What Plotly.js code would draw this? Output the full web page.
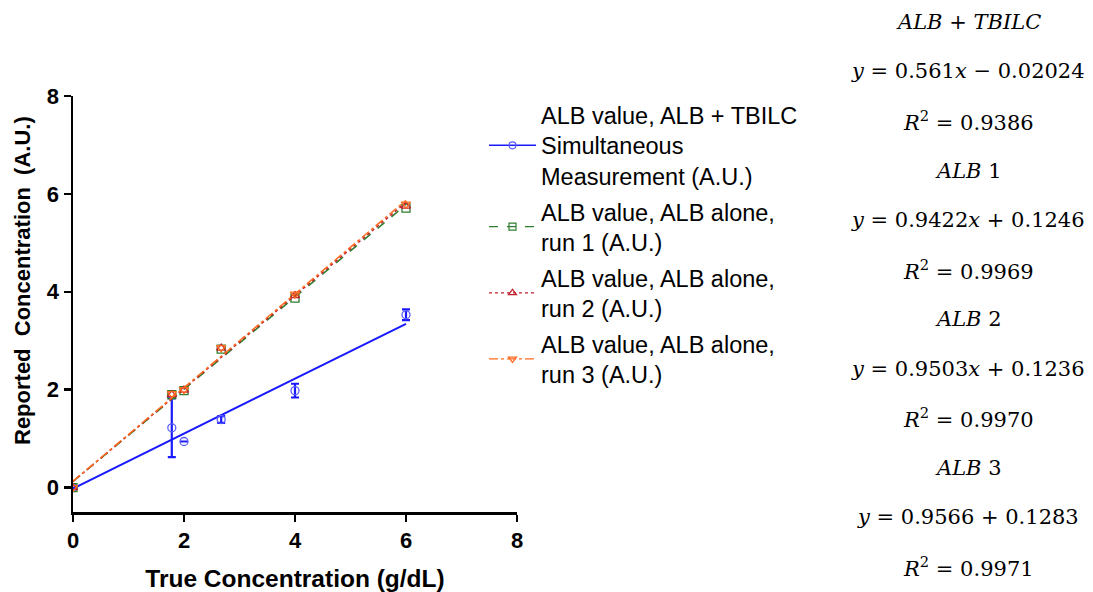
<!DOCTYPE html>
<html>
<head>
<meta charset="utf-8">
<script src="https://cdn.plot.ly/plotly-3.0.1.min.js"></script>
<style>
  html, body { margin: 0; padding: 0; background: #fff; }
  #chart { width: 1093px; height: 592px; }
</style>
</head>
<body>
<div id="chart"></div>
<script>
// True albumin concentrations (g/dL)
const trueConc = [0, 1.78, 2, 2.67, 4, 6];

// Reported values (A.U.)
const simulVals = [0, 1.22, 0.94, 1.39, 1.98, 3.53];
const simulErr  = [0, 0.60, 0, 0.07, 0.14, 0.11];
const run1Vals  = [0, 1.90, 1.98, 2.83, 3.87, 5.71];
const run2Vals  = [0, 1.90, 1.99, 2.85, 3.92, 5.75];
const run3Vals  = [0, 1.92, 2.00, 2.86, 3.95, 5.79];

// Linear fit coefficients
const fitSlopes     = [0.561, 0.9422, 0.9503, 0.9566];
const fitIntercepts = [-0.02024, 0.1246, 0.1236, 0.1283];
const fitRange      = [0, 6];

const seriesNames = [
  'ALB value, ALB + TBILC<br>Simultaneous<br>Measurement (A.U.)',
  'ALB value, ALB alone,<br>run 1 (A.U.)',
  'ALB value, ALB alone,<br>run 2 (A.U.)',
  'ALB value, ALB alone,<br>run 3 (A.U.)'
];

const eqLines = [
  '<i>ALB</i> + <i>TBILC</i>',
  '<i>y</i> = 0.561<i>x</i> − 0.02024',
  '<i>R</i><sup>2</sup> = 0.9386',
  '<i>ALB</i> 1',
  '<i>y</i> = 0.9422<i>x</i> + 0.1246',
  '<i>R</i><sup>2</sup> = 0.9969',
  '<i>ALB</i> 2',
  '<i>y</i> = 0.9503<i>x</i> + 0.1236',
  '<i>R</i><sup>2</sup> = 0.9970',
  '<i>ALB</i> 3',
  '<i>y</i> = 0.9566 + 0.1283',
  '<i>R</i><sup>2</sup> = 0.9971'
];

const xTitle = 'True Concentration (g/dL)';
const yTitle = 'Reported\u00a0\u00a0Concentration\u00a0\u00a0(A.U.)';

const styles = [
  {color: '#1a1aff', mcolor: '#5c5cff', dash: 'solid',   symbol: 'circle-open',        lw: 2},
  {color: '#2e7d2e', mcolor: '#2e7d2e', dash: 'dash',    symbol: 'square-open',        lw: 1.5},
  {color: '#c0202a', mcolor: '#c0202a', dash: 'dot',     symbol: 'triangle-up-open',   lw: 1.5},
  {color: '#ff6a1f', mcolor: '#ff6a1f', dash: 'dashdot', symbol: 'triangle-down-open', lw: 1.5}
];

const allVals = [simulVals, run1Vals, run2Vals, run3Vals];
const traces = [];

allVals.forEach((vals, i) => {
  const s = styles[i];
  const fx = fitRange;
  const fy = fitRange.map(x => fitSlopes[i] * x + fitIntercepts[i]);
  // regression line
  traces.push({
    x: fx, y: fy, mode: 'lines', type: 'scatter',
    line: {color: s.color, width: s.lw, dash: s.dash},
    showlegend: false, hoverinfo: 'skip', legendgroup: 'g' + i
  });
  // measured points
  const pt = {
    x: trueConc, y: vals, mode: 'markers', type: 'scatter',
    marker: {symbol: s.symbol, size: 8, color: s.mcolor, line: {width: 1.3, color: s.mcolor}},
    showlegend: false, legendgroup: 'g' + i
  };
  if (i === 0) {
    pt.error_y = {type: 'data', array: simulErr, visible: true, color: s.color, thickness: 2.2, width: 4};
  }
  traces.push(pt);
  // legend entry
  traces.push({
    x: [null], y: [null], mode: 'lines+markers', type: 'scatter',
    name: seriesNames[i], legendgroup: 'g' + i,
    line: {color: s.color, width: i === 0 ? 1.5 : 1.2, dash: s.dash},
    marker: {symbol: s.symbol, size: 7, color: s.mcolor, line: {width: 1.2, color: s.mcolor}}
  });
});

const W = 1093, H = 592;
const M = {l: 73, r: 576, t: 96, b: 80};
const plotW = W - M.l - M.r, plotH = H - M.t - M.b;
const px2paperX = px => (px - M.l) / plotW;
const px2paperY = py => (H - M.b - py) / plotH;

const eqY0 = 22, eqStep = 49.5, eqX = 968;
const annotations = eqLines.map((t, k) => ({
  text: t, xref: 'paper', yref: 'paper',
  x: px2paperX(eqX), y: px2paperY(eqY0 + k * eqStep),
  xanchor: 'center', yanchor: 'middle', showarrow: false,
  font: {family: 'DejaVu Serif, serif', size: 21, color: '#000'}
}));

// vertical axis title
annotations.push({
  text: yTitle, xref: 'paper', yref: 'paper',
  x: px2paperX(22), y: px2paperY(281), textangle: -90,
  xanchor: 'center', yanchor: 'middle', showarrow: false,
  font: {family: 'Liberation Sans, Arial, sans-serif', size: 22, color: '#000', weight: 'bold'}
});

const axisCommon = {
  showgrid: false, zeroline: false, showline: true,
  linecolor: '#000', linewidth: 2.5,
  ticks: 'outside', ticklen: 7, tickwidth: 2.5, tickcolor: '#000',
  tickfont: {family: 'Liberation Sans, Arial, sans-serif', size: 22, color: '#000', weight: 'bold'},
  automargin: false
};

const layout = {
  width: W, height: H,
  margin: M,
  paper_bgcolor: '#fff', plot_bgcolor: '#fff',
  showlegend: true,
  xaxis: Object.assign({}, axisCommon, {
    range: [0, 8], tickvals: [0, 2, 4, 6, 8],
    title: {text: xTitle, standoff: 18,
            font: {family: 'Liberation Sans, Arial, sans-serif', size: 24.5, color: '#000', weight: 'bold'}}
  }),
  yaxis: Object.assign({}, axisCommon, {
    range: [-0.5, 8], tickvals: [0, 2, 4, 6, 8]
  }),
  legend: {
    x: px2paperX(484), y: px2paperY(93), xanchor: 'left', yanchor: 'top',
    font: {family: 'Liberation Sans, Arial, sans-serif', size: 23.5, color: '#000'},
    tracegroupgap: 2, itemwidth: 47,
    bgcolor: 'rgba(0,0,0,0)'
  },
  annotations: annotations
};

Plotly.newPlot('chart', traces, layout, {displayModeBar: false, staticPlot: true});
</script>
</body>
</html>
